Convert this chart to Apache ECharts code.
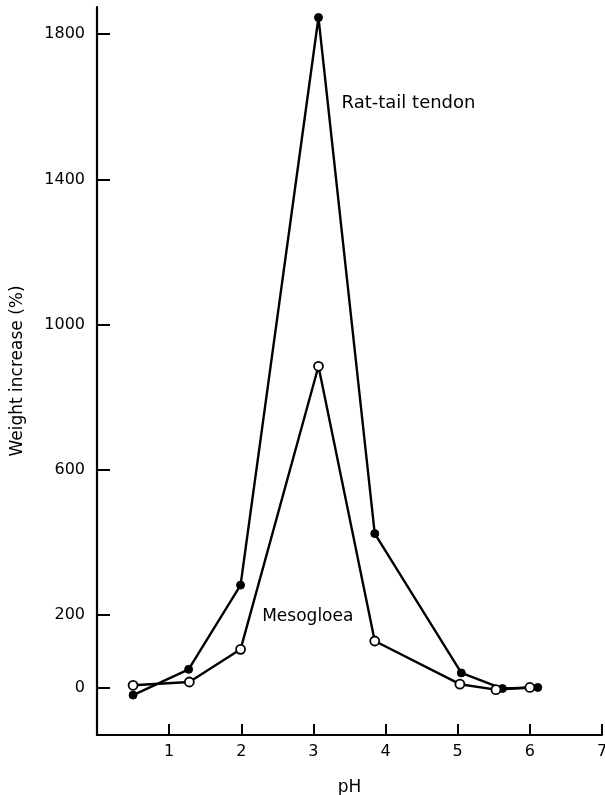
<!DOCTYPE html>
<html>
<head>
<meta charset="utf-8">
<script src="https://cdn.jsdelivr.net/npm/echarts@6/dist/echarts.min.js"></script>
<style>
  html, body { margin: 0; padding: 0; background: #fff; }
  #chart { width: 605px; height: 795px; }
</style>
</head>
<body>
<div id="chart"></div>
<script>
// pH vs weight increase
const tendonPH = [0.5, 1.27, 1.99, 3.07, 3.85, 5.05, 5.62, 6.11]
const tendonWeight = [-21, 50, 282, 1846, 424, 40, -3, 0]
const mesoPH = [0.5, 1.28, 1.99, 3.07, 3.85, 5.03, 5.53, 6.0]
const mesoWeight = [6, 15, 105, 885, 128, 9, -6, 0]

const yTicks = [0, 200, 600, 1000, 1400, 1800]
const xTicks = [1, 2, 3, 4, 5, 6, 7]

const FONT = 'DejaVu Sans'
const INK = '#000'

const chart = echarts.init(document.getElementById('chart'))

const pairs = (xs, ys) => xs.map((x, i) => [x, ys[i]])

chart.setOption({
  animation: false,
  backgroundColor: '#fff',
  grid: { left: 97, right: 3, top: 7, bottom: 60, containLabel: false, outerBoundsMode: 'none' },
  xAxis: {
    type: 'value',
    min: 0,
    max: 7,
    interval: 1,
    name: 'pH',
    nameLocation: 'middle',
    nameGap: 44,
    nameTextStyle: { fontFamily: FONT, fontSize: 17, color: INK },
    splitLine: { show: false },
    axisLine: { onZero: false, lineStyle: { color: INK, width: 2.2 } },
    axisTick: { inside: true, length: 11, customValues: xTicks, lineStyle: { color: INK, width: 2 } },
    axisLabel: {
      customValues: xTicks,
      margin: 9,
      fontFamily: FONT,
      fontSize: 16,
      color: INK,
      formatter: v => String(v)
    }
  },
  yAxis: {
    type: 'value',
    min: -131,
    max: 1875,
    name: 'Weight increase (%)',
    nameLocation: 'middle',
    nameGap: 71,
    nameTextStyle: { fontFamily: FONT, fontSize: 17, color: INK },
    splitLine: { show: false },
    axisLine: { onZero: false, lineStyle: { color: INK, width: 2.2 } },
    axisTick: { inside: true, length: 13, customValues: yTicks, lineStyle: { color: INK, width: 2 } },
    axisLabel: {
      customValues: yTicks,
      margin: 12,
      fontFamily: FONT,
      fontSize: 16,
      color: INK,
      formatter: v => String(v)
    }
  },
  series: [
    {
      name: 'Rat-tail tendon',
      type: 'line',
      data: pairs(tendonPH, tendonWeight),
      symbol: 'circle',
      symbolSize: 8,
      lineStyle: { color: INK, width: 2.4 },
      itemStyle: { color: INK, borderColor: INK, borderWidth: 1 },
      z: 3,
      markPoint: {
        symbol: 'circle',
        symbolSize: 0,
        data: [{ coord: [3.39, 1610] }],
        label: {
          show: true,
          formatter: 'Rat-tail tendon',
          position: 'right',
          distance: 0,
          fontFamily: FONT,
          fontSize: 18,
          color: INK
        }
      }
    },
    {
      name: 'Mesogloea',
      type: 'line',
      data: pairs(mesoPH, mesoWeight),
      symbol: 'circle',
      symbolSize: 9,
      lineStyle: { color: INK, width: 2.4 },
      itemStyle: { color: '#fff', borderColor: INK, borderWidth: 1.8 },
      z: 4,
      markPoint: {
        symbol: 'circle',
        symbolSize: 0,
        data: [{ coord: [2.29, 194] }],
        label: {
          show: true,
          formatter: 'Mesogloea',
          position: 'right',
          distance: 0,
          fontFamily: FONT,
          fontSize: 17,
          color: INK
        }
      }
    }
  ]
})
</script>
</body>
</html>
